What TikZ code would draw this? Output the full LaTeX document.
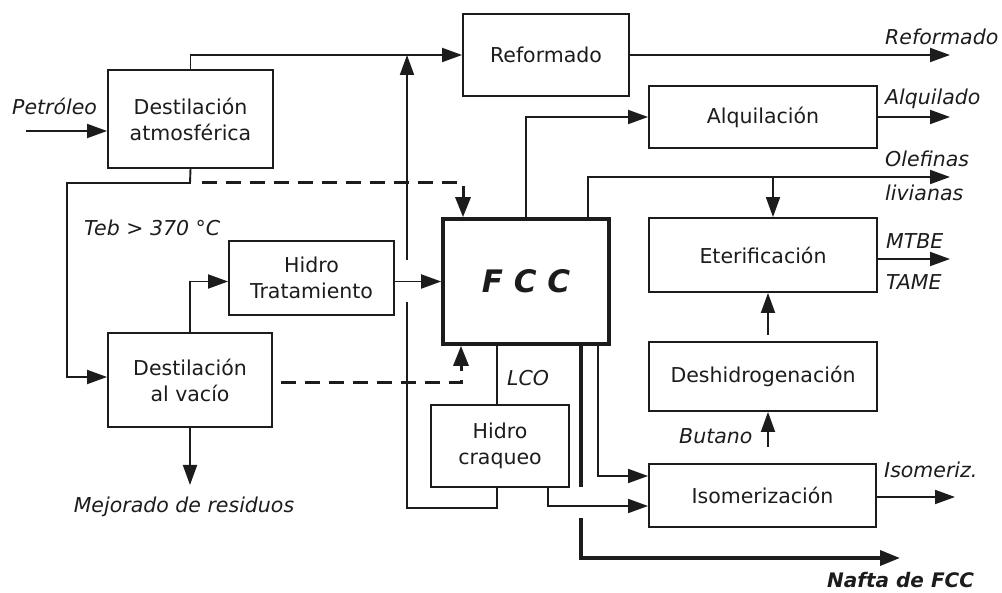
\documentclass[tikz,border=0pt]{standalone}
\usepackage{fontspec}
\setmainfont{DejaVu Sans}
\usetikzlibrary{arrows.meta}
\definecolor{ink}{HTML}{1C1C1C}
\begin{document}
\begin{tikzpicture}[x=1pt,y=-1pt,
  font=\fontsize{20.5}{26}\selectfont,
  every node/.style={text=ink},
  box/.style={draw=ink, line width=1.9pt, align=center, inner sep=0pt, fill=white},
  flow/.style={draw=ink, line width=1.9pt},
  arr/.style={flow, -{Triangle[length=20pt,width=14pt]}},
  dsh/.style={draw=ink, line width=3pt, dash pattern=on 15pt off 9pt, -{Triangle[length=20pt,width=15pt]}},
  thick flow/.style={draw=ink, line width=3.6pt},
  lbl/.style={font=\fontsize{20.5}{26}\selectfont\itshape, inner sep=0pt, anchor=west},
]
\useasboundingbox (0,0) rectangle (1002,593);

% process units
\node[box, minimum width=165, minimum height=98] (atm) at (190.5,119) {Destilación\\atmosférica};
\node[box, minimum width=166, minimum height=82] (ref) at (546,55) {Reformado};
\node[box, minimum width=165, minimum height=74] (ht) at (311.5,278) {Hidro\\Tratamiento};
\node[box, minimum width=164, minimum height=94] (vac) at (190,380) {Destilación\\al vacío};
\node[box, line width=3.6pt, minimum width=166, minimum height=125, font=\fontsize{31}{31}\selectfont\bfseries\itshape] (fcc) at (526,281.5) {F C C};
\node[box, minimum width=138, minimum height=82] (hc) at (500,446) {Hidro\\craqueo};
\node[box, minimum width=228, minimum height=62] (alq) at (763,117) {Alquilación};
\node[box, minimum width=228, minimum height=74] (ete) at (763,255) {Eterificación};
\node[box, minimum width=228, minimum height=69] (des) at (763,376.5) {Deshidrogenación};
\node[box, minimum width=227, minimum height=63] (iso) at (762.5,495.5) {Isomerización};

% free ends and junctions
\coordinate (crude) at (26,131);
\coordinate (split) at (190,183);
\coordinate (loopL) at (67,183);
\coordinate (resid) at (190,485);
\coordinate (refOut) at (950,55);
\coordinate (alqOut) at (950,117);
\coordinate (oleOut) at (950,177);
\coordinate (eteOut) at (950,259);
\coordinate (isoOut) at (955,497);
\coordinate (naftaOut) at (900,558);
\coordinate (butIn) at (768,447);
\coordinate (hcLoop) at (407,508);
\coordinate (hcGapLo) at (407,302);
\coordinate (hcGapHi) at (407,260);
\coordinate (refIn) at (407,55);

% labels
\node[lbl] (lpet) at (12,106) {Petróleo};
\node[lbl] (lteb) at (84,228) {Teb > 370 °C};
\node[lbl, anchor=center] (lmej) at (184,507) {Mejorado de residuos};
\node[lbl] (lref) at (885,37) {Reformado};
\node[lbl] (lalq) at (885,99) {Alquilado};
\node[lbl] (lole) at (885,159) {Olefinas};
\node[lbl] (lliv) at (885,193) {livianas};
\node[lbl] (lmtbe) at (886,241) {MTBE};
\node[lbl] (ltame) at (886,282) {TAME};
\node[lbl] (lisom) at (884,470) {Isomeriz.};
\node[lbl] (lbut) at (679,436) {Butano};
\node[lbl] (llco) at (507,378) {LCO};
\node[lbl, font=\fontsize{20}{25}\selectfont\bfseries\itshape] (lnaf) at (827,580) {Nafta de FCC};

% crude feed and atmospheric column
\draw[arr] (crude) -- (crude -| atm.west);
\draw[arr] (atm.north) |- (ref.west);
\draw[arr] (ref.east) -- (refOut);
\draw[arr] (atm.south) -- (split) -- (loopL) |- (vac.west |- 0,377);
\draw[dsh] ([xshift=12pt]split) -| ([xshift=-63pt]fcc.north);

% vacuum column
\draw[arr] (vac.north) |- (ht.west |- fcc.west);
\draw[arr] (vac.south) -- (resid);
\draw[dsh] ([xshift=8pt,yshift=-3pt]vac.east) -| ([xshift=-65pt]fcc.south);
\draw[arr] (ht.east |- fcc.west) -- (fcc.west);

% hydrocracker loop back to the reformer feed
\draw[flow] ([xshift=-29pt]fcc.south) -- ([xshift=-3pt]hc.north);
\draw[flow] ([xshift=-3pt]hc.south) |- (hcLoop) -- (hcGapLo);
\draw[arr] (hcGapHi) -- (refIn);
\draw[arr] ([xshift=48pt]hc.south) |- (iso.west |- 0,506);

% FCC products
\draw[arr] (fcc.north) |- (alq.west);
\draw[arr] ([xshift=62pt]fcc.north) |- (oleOut);
\draw[arr] (oleOut -| ete.north) ++(10,0) coordinate (oleBr) -- (oleBr |- ete.north);
\draw[arr] ([xshift=72pt]fcc.south) |- (iso.west |- 0,476);
\draw[thick flow] ([xshift=55pt]fcc.south) -- ([xshift=55pt]fcc.south |- 0,487);
\draw[thick flow, -{Triangle[length=20pt,width=15pt]}] ([xshift=55pt]fcc.south |- 0,518) |- (naftaOut);

% light ends processing
\draw[arr] (alq.east) -- (alqOut);
\draw[arr] (butIn) -- (butIn |- des.south);
\draw[arr] ([xshift=5pt,yshift=6pt]des.north) -- ([xshift=5pt]ete.south);
\draw[arr] ([yshift=-4pt]ete.east) -- (eteOut);
\draw[arr] (iso.east |- isoOut) -- (isoOut);
\end{tikzpicture}
\end{document}
